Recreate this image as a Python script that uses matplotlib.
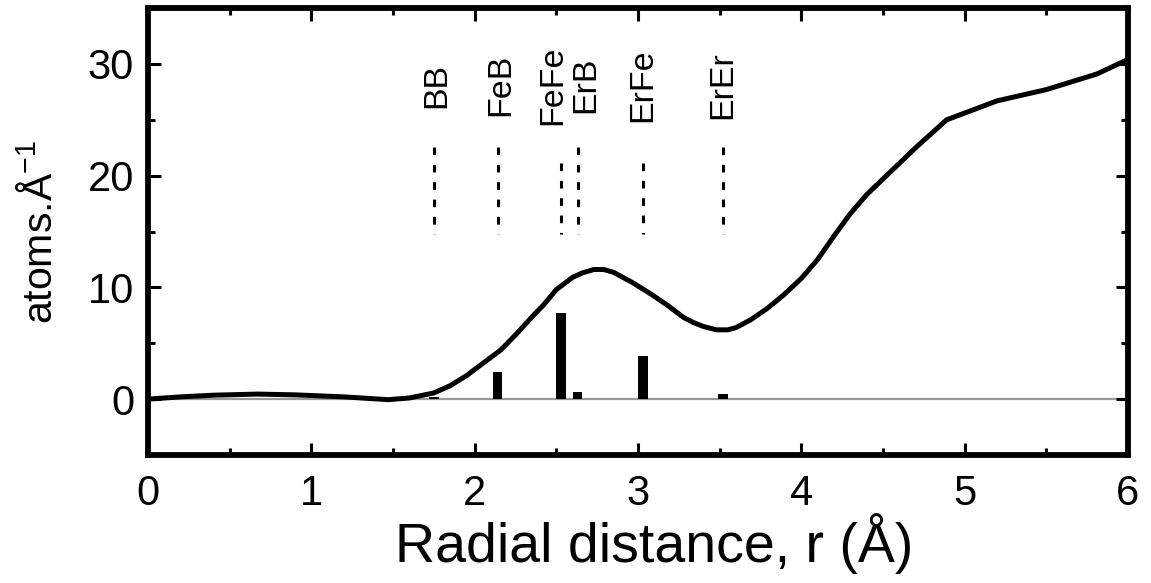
import numpy as np
import matplotlib
matplotlib.use('Agg')
import matplotlib.pyplot as plt
from matplotlib.ticker import MultipleLocator

plt.rcParams['font.family'] = ['Liberation Sans', 'DejaVu Sans']
plt.rcParams['mathtext.fontset'] = 'custom'
plt.rcParams['mathtext.rm'] = 'Liberation Sans'
plt.rcParams['mathtext.it'] = 'Liberation Sans'
plt.rcParams['lines.scale_dashes'] = False

# radial distribution curve
r = [0, 0.2, 0.4, 0.67, 0.9, 1.2, 1.47, 1.6, 1.75, 1.85, 1.95, 2.05, 2.16, 2.26,
     2.36, 2.42, 2.5, 2.6, 2.66, 2.73, 2.79, 2.85, 2.97, 3.09, 3.18, 3.28, 3.34,
     3.40, 3.48, 3.55, 3.6, 3.69, 3.79, 3.89, 4.0, 4.1, 4.2, 4.3, 4.4, 4.5, 4.6,
     4.7, 4.89, 5.2, 5.5, 5.81, 6.0]
g = [0, 0.2, 0.35, 0.45, 0.38, 0.2, -0.05, 0.1, 0.55, 1.2, 2.1, 3.2, 4.4, 5.9,
     7.5, 8.4, 9.8, 10.9, 11.3, 11.6, 11.6, 11.35, 10.4, 9.3, 8.4, 7.3, 6.85,
     6.5, 6.2, 6.2, 6.4, 7.1, 8.1, 9.3, 10.8, 12.5, 14.6, 16.6, 18.3, 19.7, 21.1,
     22.5, 25.0, 26.7, 27.7, 29.1, 30.4]

# pair distances
pairs = ['BB', 'FeB', 'FeFe', 'ErB', 'ErFe', 'ErEr']
pair_r = [1.75, 2.14, 2.53, 2.63, 3.03, 3.52]
pair_lab_r = [1.77, 2.16, 2.48, 2.68, 3.03, 3.52]
pair_h = [0.15, 2.4, 7.7, 0.6, 3.9, 0.45]
dash_top = [22.6, 22.6, 21.1, 22.6, 21.1, 22.6]
dash_bot = 14.8

fig = plt.figure(figsize=(11.51, 5.83), dpi=100)
ax = fig.add_axes([0.1286, 0.2196, 0.8514, 0.7666])

ax.axhline(0, color='#999999', lw=1.6, zorder=1)
ax.bar(pair_r, pair_h, width=0.06, color='black', zorder=2)
ax.plot(r, g, color='black', lw=3.6, zorder=3, solid_joinstyle='round',
        solid_capstyle='round')

for x, xl, top, name in zip(pair_r, pair_lab_r, dash_top, pairs):
    ax.plot([x, x], [top, dash_bot], color='black', lw=2.2, dashes=(5.5, 7))
    ax.text(xl, 28.1, name, rotation=90, ha='center', va='center', fontsize=24.5)

ax.set_xlim(0, 6)
ax.set_ylim(-5, 35)
ax.xaxis.set_major_locator(MultipleLocator(1))
ax.xaxis.set_minor_locator(MultipleLocator(0.5))
ax.yaxis.set_major_locator(MultipleLocator(10))
ax.yaxis.set_minor_locator(MultipleLocator(5))
ax.tick_params(which='both', direction='in', top=True, right=True, width=2.2)
ax.tick_params(which='major', length=9, labelsize=30)
ax.tick_params(which='minor', length=5)
ax.tick_params(axis='x', pad=14)
ax.tick_params(axis='y', pad=10)
for s in ax.spines.values():
    s.set_linewidth(4.2)

ax.set_xlabel('Radial distance, r (Å)', fontsize=40, labelpad=0)
ax.xaxis.set_label_coords(0.517, -0.13)
ax.set_ylabel('atoms.Å$^{-1}$', fontsize=29.5, labelpad=20)

fig.savefig('out.png', dpi=100)
